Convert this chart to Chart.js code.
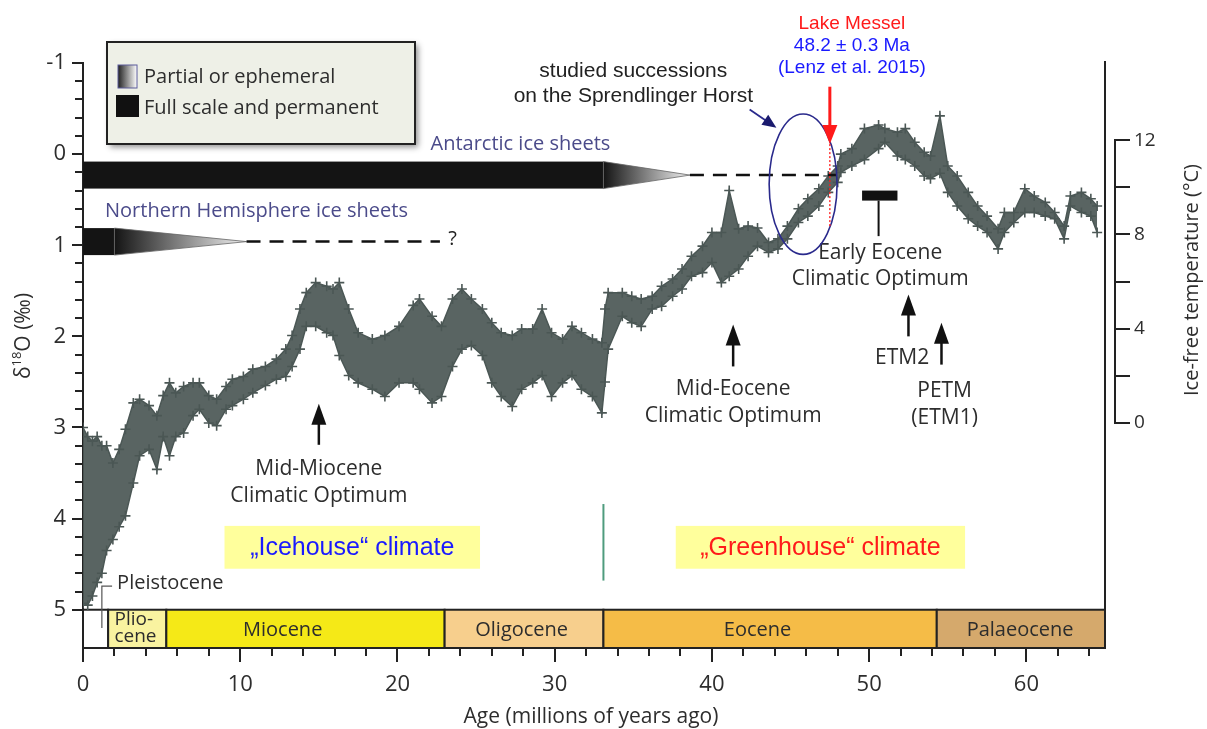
<!DOCTYPE html>
<html>
<head>
<meta charset="utf-8">
<script src="https://cdn.jsdelivr.net/npm/chart.js@4/dist/chart.umd.min.js"></script>
<style>
  html, body { margin: 0; padding: 0; background: #fff; }
</style>
</head>
<body>
<canvas id="chart" width="1207" height="729"></canvas>
<script>
// ---- data ----
// age in Ma, upper and lower edge of the δ18O scatter cloud (‰)
const ages = [
  0.0, 0.3, 0.6, 0.9, 1.2, 1.5, 1.9, 2.3, 2.7, 3.2,
  3.6, 4.2, 4.7, 5.1, 5.5, 5.9, 6.4, 7.0, 7.4, 8.0,
  8.5, 9.1, 9.5, 10.2, 10.8, 11.6, 12.3, 12.9, 13.3, 13.8,
  14.2, 14.8, 15.5, 15.9, 16.3, 16.9, 17.5, 18.4, 19.2, 20.1,
  21.0, 21.4, 22.2, 22.8, 23.5, 24.1, 24.7, 25.4, 26.0, 26.6,
  27.3, 27.9, 28.6, 29.2, 29.8, 30.5, 31.1, 31.7, 32.4, 33.0,
  33.2, 33.4, 34.3, 34.9, 35.5, 36.2, 36.8, 37.5, 38.1, 38.7,
  39.4, 40.0, 40.6, 41.1, 41.7, 42.3, 42.9, 43.6, 44.2, 44.8,
  45.5, 46.1, 46.8, 47.4, 48.0, 48.2, 48.9, 49.7, 50.6, 51.0,
  51.8, 52.3, 52.9, 53.5, 53.9, 54.5, 55.0, 55.6, 56.3, 56.9,
  57.5, 58.2, 58.6, 59.2, 59.9, 60.5, 61.2, 61.8, 62.4, 62.8,
  63.5, 64.1, 64.5
];
const d18oTop = [
  3.0, 3.1, 3.15, 3.1, 3.2, 3.2, 3.39, 3.24, 3.02, 2.73,
  2.69, 2.76, 2.87, 2.65, 2.51, 2.62, 2.55, 2.51, 2.51, 2.65,
  2.69, 2.55, 2.47, 2.44, 2.36, 2.33, 2.25, 2.14, 1.99, 1.70,
  1.52, 1.41, 1.45, 1.48, 1.41, 1.70, 1.96, 2.03, 1.99, 1.89,
  1.66, 1.59, 1.78, 1.89, 1.59, 1.48, 1.59, 1.70, 1.85, 1.96,
  1.99, 1.92, 1.92, 1.70, 1.96, 2.03, 1.89, 1.96, 2.03, 2.07,
  1.70, 1.52, 1.52, 1.56, 1.59, 1.56, 1.45, 1.37, 1.26, 1.12,
  1.01, 0.86, 0.86, 0.40, 0.82, 0.79, 0.81, 0.97, 0.93, 0.79,
  0.60, 0.49, 0.38, 0.24, 0.13, 0.00, -0.06, -0.28, -0.32, -0.28,
  -0.24, -0.28, -0.13, -0.02, 0.02, -0.42, 0.13, 0.24, 0.42, 0.57,
  0.68, 0.82, 0.64, 0.64, 0.38, 0.46, 0.53, 0.64, 0.79, 0.46,
  0.42, 0.49, 0.57
];
const d18oBottom = [
  4.93, 4.95, 4.85, 4.70, 4.60, 4.35, 4.23, 4.09, 3.97, 3.61,
  3.31, 3.24, 3.46, 3.10, 3.31, 3.10, 3.06, 2.87, 2.80, 2.95,
  2.98, 2.80, 2.76, 2.69, 2.62, 2.54, 2.47, 2.44, 2.33, 2.14,
  1.89, 1.89, 1.96, 1.99, 2.21, 2.43, 2.51, 2.58, 2.66, 2.51,
  2.51, 2.58, 2.73, 2.66, 2.33, 2.14, 2.10, 2.21, 2.51, 2.66,
  2.77, 2.58, 2.51, 2.43, 2.66, 2.51, 2.43, 2.58, 2.66, 2.84,
  2.50, 2.14, 1.78, 1.85, 1.89, 1.70, 1.67, 1.56, 1.48, 1.34,
  1.30, 1.19, 1.41, 1.34, 1.26, 1.12, 1.01, 1.08, 1.04, 0.93,
  0.75, 0.68, 0.57, 0.42, 0.31, 0.20, 0.13, 0.06, -0.06, -0.13,
  0.02, 0.06, 0.13, 0.24, 0.27, 0.21, 0.42, 0.57, 0.71, 0.79,
  0.86, 1.04, 0.86, 0.75, 0.64, 0.64, 0.68, 0.71, 0.93, 0.57,
  0.64, 0.68, 0.86
];

// epochs (Ma)
const epochNames = ['', 'Plio-|cene', 'Miocene', 'Oligocene', 'Eocene', 'Palaeocene'];
const epochStart = [0, 1.6, 5.3, 23.0, 33.1, 54.3];
const epochEnd = [1.6, 5.3, 23.0, 33.1, 54.3, 65];
const epochLabelAge = [null, 2.0, 12.7, 27.9, 42.9, 59.6];
const epochColors = ['#ffffff', '#f9f3a0', '#f5e917', '#f7cf8d', '#f5bc47', '#d5a96c'];

// ice sheets: full until, partial until, uncertain until (Ma), δ18O level
const iceSheetNames = ['Antarctic ice sheets', 'Northern Hemisphere ice sheets'];
const iceFullTo = [33.1, 2.0];
const icePartialTo = [38.6, 10.4];
const iceDashedTo = [47.9, 22.7];
const iceLevel = [0.23, 0.96];

// climate states
const climateNames = ['„Icehouse“ climate', '„Greenhouse“ climate'];
const climateFrom = [9.0, 37.7];
const climateTo = [25.25, 56.1];
const climateColors = ['#1a1aff', '#ff1a1a'];
const climateBoundary = 33.1;

// ticks
const xTickLabels = [0, 10, 20, 30, 40, 50, 60];
const yTickLabels = [-1, 0, 1, 2, 3, 4, 5];
const tempTicks = [0, 2, 4, 6, 8, 10, 12];
const tempTickLabels = [0, 4, 8, 12];

// Lake Messel age as drawn (Ma)
const messelAge = 47.5;

const CLOUD = '#4b5755';
const INK = '#2d2d2d';
const SANS = '"Open Sans", "Noto Sans", sans-serif';
const ARIAL = '"Liberation Sans", Arial, sans-serif';

function label(ctx, str, x, y, size, color, align, family) {
  ctx.font = size + 'px ' + (family || SANS);
  ctx.fillStyle = color;
  ctx.textAlign = align || 'center';
  ctx.textBaseline = 'middle';
  ctx.fillText(str, x, y);
}

function upArrow(ctx, x, yTip, yBase) {
  ctx.strokeStyle = '#111';
  ctx.fillStyle = '#111';
  ctx.lineWidth = 2.5;
  ctx.beginPath();
  ctx.moveTo(x, yBase);
  ctx.lineTo(x, yTip + 15);
  ctx.stroke();
  ctx.beginPath();
  ctx.moveTo(x, yTip);
  ctx.lineTo(x - 7.5, yTip + 21);
  ctx.lineTo(x + 7.5, yTip + 21);
  ctx.closePath();
  ctx.fill();
}

// rotated title with an optional superscript part
function rotatedTitle(ctx, parts, cx, cy, size) {
  ctx.save();
  ctx.translate(cx, cy);
  ctx.rotate(-Math.PI / 2);
  ctx.fillStyle = INK;
  ctx.textBaseline = 'middle';
  ctx.textAlign = 'left';
  let total = 0;
  parts.forEach(p => {
    ctx.font = (p.sup ? Math.round(size * 0.62) : size) + 'px ' + SANS;
    p.w = ctx.measureText(p.t).width;
    total += p.w;
  });
  let px = -total / 2;
  parts.forEach(p => {
    ctx.font = (p.sup ? Math.round(size * 0.62) : size) + 'px ' + SANS;
    ctx.fillText(p.t, px, p.sup ? -size * 0.3 : 0);
    px += p.w;
  });
  ctx.restore();
}

const decor = {
  id: 'decor',
  beforeDatasetsDraw(chart) {
    const { ctx, chartArea: a, scales: { x, y } } = chart;
    ctx.save();
    // climate boxes
    climateNames.forEach((name, i) => {
      const x0 = x.getPixelForValue(climateFrom[i]);
      const x1 = x.getPixelForValue(climateTo[i]);
      const y0 = y.getPixelForValue(4.08);
      const y1 = y.getPixelForValue(4.55);
      ctx.fillStyle = '#ffff9c';
      ctx.fillRect(x0, y0, x1 - x0, y1 - y0);
      label(ctx, name, (x0 + x1) / 2, (y0 + y1) / 2 + 1, 25, climateColors[i], 'center', ARIAL);
    });
    // icehouse / greenhouse boundary
    const gx = x.getPixelForValue(climateBoundary);
    ctx.strokeStyle = '#4f9c7e';
    ctx.lineWidth = 2;
    ctx.beginPath();
    ctx.moveTo(gx, y.getPixelForValue(3.84));
    ctx.lineTo(gx, y.getPixelForValue(4.68));
    ctx.stroke();

    // epoch bar
    const yb0 = y.getPixelForValue(5);
    const yb1 = a.bottom;
    epochNames.forEach((name, i) => {
      const x0 = x.getPixelForValue(epochStart[i]);
      const x1 = x.getPixelForValue(epochEnd[i]);
      ctx.fillStyle = epochColors[i];
      ctx.fillRect(x0, yb0, x1 - x0, yb1 - yb0);
      ctx.strokeStyle = '#222';
      ctx.lineWidth = 2;
      ctx.strokeRect(x0, yb0, x1 - x0, yb1 - yb0);
      if (!name) return;
      const lx = x.getPixelForValue(epochLabelAge[i]);
      const ym = (yb0 + yb1) / 2;
      if (name.includes('|')) {
        const [l1, l2] = name.split('|');
        label(ctx, l1, lx, ym - 9, 19, INK, 'left');
        label(ctx, l2, lx, ym + 8, 19, INK, 'left');
      } else {
        label(ctx, name, lx, ym + 1, 20, INK, 'center');
      }
    });
    // Pleistocene leader
    const lx = x.getPixelForValue(1.2);
    ctx.strokeStyle = '#555';
    ctx.lineWidth = 1.2;
    ctx.beginPath();
    ctx.moveTo(lx, y.getPixelForValue(5.2));
    ctx.lineTo(lx, y.getPixelForValue(4.74));
    ctx.lineTo(x.getPixelForValue(1.85), y.getPixelForValue(4.74));
    ctx.stroke();
    label(ctx, 'Pleistocene', x.getPixelForValue(2.17), y.getPixelForValue(4.71), 20, INK, 'left');
    ctx.restore();
  },
  afterDatasetsDraw(chart) {
    const { ctx, scales: { x, y } } = chart;
    ctx.save();
    // ice sheet bars
    iceSheetNames.forEach((name, i) => {
      const yc = y.getPixelForValue(iceLevel[i]);
      const half = 13.5;
      const x0 = x.getPixelForValue(0);
      const x1 = x.getPixelForValue(iceFullTo[i]);
      const x2 = x.getPixelForValue(icePartialTo[i]);
      const x3 = x.getPixelForValue(iceDashedTo[i]);
      ctx.fillStyle = '#141414';
      ctx.fillRect(x0, yc - half, x1 - x0, 2 * half);
      const g = ctx.createLinearGradient(x1, 0, x2, 0);
      g.addColorStop(0, '#141414');
      g.addColorStop(1, '#f2f2f2');
      ctx.fillStyle = g;
      ctx.beginPath();
      ctx.moveTo(x1, yc - half);
      ctx.lineTo(x2, yc);
      ctx.lineTo(x1, yc + half);
      ctx.closePath();
      ctx.fill();
      ctx.strokeStyle = '#666';
      ctx.lineWidth = 0.8;
      ctx.stroke();
      ctx.setLineDash([14, 9]);
      ctx.strokeStyle = '#111';
      ctx.lineWidth = 2.5;
      ctx.beginPath();
      ctx.moveTo(x2, yc);
      ctx.lineTo(x3, yc);
      ctx.stroke();
      ctx.setLineDash([]);
    });
    label(ctx, iceSheetNames[0], x.getPixelForValue(22.1), y.getPixelForValue(-0.11), 20, '#4b4b8a', 'left');
    label(ctx, iceSheetNames[1], x.getPixelForValue(1.4), y.getPixelForValue(0.63), 20, '#4b4b8a', 'left');
    label(ctx, '?', x.getPixelForValue(23.5), y.getPixelForValue(0.93), 20, '#222', 'center');
    ctx.restore();
  },
  afterDraw(chart) {
    const { ctx, chartArea: a, scales: { x, y, yT } } = chart;
    ctx.save();

    // left axis ticks (major every 1, minor every 0.2)
    ctx.strokeStyle = '#222';
    ctx.lineWidth = 2;
    for (let k = -5; k <= 25; k++) {
      const v = k / 5;
      const py = Math.round(y.getPixelForValue(v));
      const len = k % 5 === 0 ? 11 : 8;
      ctx.beginPath();
      ctx.moveTo(a.left - len, py);
      ctx.lineTo(a.left, py);
      ctx.stroke();
    }
    // bottom axis ticks (major every 10, minor every 2)
    for (let v = 0; v <= 64; v += 2) {
      const px = Math.round(x.getPixelForValue(v));
      const len = v % 10 === 0 ? 14 : 8;
      ctx.beginPath();
      ctx.moveTo(px, a.bottom);
      ctx.lineTo(px, a.bottom + len);
      ctx.stroke();
    }
    // right frame line
    ctx.beginPath();
    ctx.moveTo(a.right, a.top - 2);
    ctx.lineTo(a.right, a.bottom);
    ctx.stroke();

    // temperature axis
    const tx = a.right + 10;
    ctx.beginPath();
    ctx.moveTo(tx, yT.getPixelForValue(12));
    ctx.lineTo(tx, yT.getPixelForValue(0));
    ctx.stroke();
    tempTicks.forEach(v => {
      const py = Math.round(yT.getPixelForValue(v));
      ctx.beginPath();
      ctx.moveTo(tx - 1, py);
      ctx.lineTo(tx + 15, py);
      ctx.stroke();
    });

    // axis titles
    rotatedTitle(ctx, [{ t: 'δ' }, { t: '18', sup: true }, { t: 'O (‰)' }], 24, 336, 21);
    rotatedTitle(ctx, [{ t: 'Ice-free temperature (°C)' }], 1192, 280, 20);
    label(ctx, 'Age (millions of years ago)', (a.left + a.right) / 2 - 3, 717, 21, INK, 'center');

    // climatic events
    const events = [
      { age: 15.0, tip: 2.74, base: 3.19, lines: ['Mid-Miocene', 'Climatic Optimum'], textAge: 15.0, textAt: 3.46 },
      { age: 41.35, tip: 1.87, base: 2.33, lines: ['Mid-Eocene', 'Climatic Optimum'], textAge: 41.35, textAt: 2.58 },
      { age: 52.5, tip: 1.54, base: 2.0, lines: ['ETM2'], textAge: 52.1, textAt: 2.24 },
      { age: 54.6, tip: 1.85, base: 2.31, lines: ['PETM', '(ETM1)'], textAge: 54.8, textAt: 2.6 }
    ];
    events.forEach(e => {
      upArrow(ctx, x.getPixelForValue(e.age), y.getPixelForValue(e.tip), y.getPixelForValue(e.base));
      e.lines.forEach((t, j) => {
        label(ctx, t, x.getPixelForValue(e.textAge), y.getPixelForValue(e.textAt) + j * 27, 21, INK, 'center');
      });
    });
    // Early Eocene Climatic Optimum bar
    const ex0 = x.getPixelForValue(49.55), ex1 = x.getPixelForValue(51.8);
    ctx.fillStyle = '#111';
    ctx.fillRect(ex0, y.getPixelForValue(0.40), ex1 - ex0, y.getPixelForValue(0.51) - y.getPixelForValue(0.40));
    ctx.strokeStyle = '#111';
    ctx.lineWidth = 2;
    ctx.beginPath();
    ctx.moveTo(x.getPixelForValue(50.6), y.getPixelForValue(0.51));
    ctx.lineTo(x.getPixelForValue(50.6), y.getPixelForValue(0.90));
    ctx.stroke();
    label(ctx, 'Early Eocene', x.getPixelForValue(50.7), y.getPixelForValue(1.08), 21, INK, 'center');
    label(ctx, 'Climatic Optimum', x.getPixelForValue(50.7), y.getPixelForValue(1.37), 21, INK, 'center');

    // studied successions ellipse + arrow
    const ecx = x.getPixelForValue(45.8), ecy = y.getPixelForValue(0.33);
    const erx = x.getPixelForValue(45.8 + 2.16) - ecx;
    const ery = y.getPixelForValue(0.33 + 0.77) - ecy;
    ctx.strokeStyle = '#2a2a8c';
    ctx.lineWidth = 1.6;
    ctx.beginPath();
    ctx.ellipse(ecx, ecy, erx, ery, 0, 0, Math.PI * 2);
    ctx.stroke();
    const ax0 = x.getPixelForValue(42.4), ay0 = y.getPixelForValue(-0.49);
    const ax1 = x.getPixelForValue(44.1), ay1 = y.getPixelForValue(-0.29);
    const ang = Math.atan2(ay1 - ay0, ax1 - ax0);
    ctx.lineWidth = 1.8;
    ctx.beginPath();
    ctx.moveTo(ax0, ay0);
    ctx.lineTo(ax1 - 8 * Math.cos(ang), ay1 - 8 * Math.sin(ang));
    ctx.stroke();
    ctx.fillStyle = '#1a1a6e';
    ctx.beginPath();
    ctx.moveTo(ax1, ay1);
    ctx.lineTo(ax1 - 14 * Math.cos(ang) + 6 * Math.sin(ang), ay1 - 14 * Math.sin(ang) - 6 * Math.cos(ang));
    ctx.lineTo(ax1 - 14 * Math.cos(ang) - 6 * Math.sin(ang), ay1 - 14 * Math.sin(ang) + 6 * Math.cos(ang));
    ctx.closePath();
    ctx.fill();
    label(ctx, 'studied successions', x.getPixelForValue(35.0), y.getPixelForValue(-0.91), 21, '#222', 'center', ARIAL);
    label(ctx, 'on the Sprendlinger Horst', x.getPixelForValue(35.0), y.getPixelForValue(-0.64), 21, '#222', 'center', ARIAL);

    // Lake Messel
    const mx = x.getPixelForValue(messelAge);
    const mTip = y.getPixelForValue(-0.11);
    ctx.strokeStyle = '#ff1a1a';
    ctx.fillStyle = '#ff1a1a';
    ctx.lineWidth = 3;
    ctx.beginPath();
    ctx.moveTo(mx, y.getPixelForValue(-0.74));
    ctx.lineTo(mx, mTip - 14);
    ctx.stroke();
    ctx.beginPath();
    ctx.moveTo(mx, mTip);
    ctx.lineTo(mx - 7.5, mTip - 19);
    ctx.lineTo(mx + 7.5, mTip - 19);
    ctx.closePath();
    ctx.fill();
    ctx.lineWidth = 1.3;
    ctx.setLineDash([2, 2]);
    ctx.beginPath();
    ctx.moveTo(mx, mTip);
    ctx.lineTo(mx, y.getPixelForValue(0.80));
    ctx.stroke();
    ctx.setLineDash([]);
    label(ctx, 'Lake Messel', x.getPixelForValue(48.9), y.getPixelForValue(-1.43), 19, '#ff1a1a', 'center', ARIAL);
    label(ctx, '48.2 ± 0.3 Ma', x.getPixelForValue(48.9), y.getPixelForValue(-1.19), 19, '#1a1aff', 'center', ARIAL);
    label(ctx, '(Lenz et al. 2015)', x.getPixelForValue(48.9), y.getPixelForValue(-0.95), 19, '#1a1aff', 'center', ARIAL);

    // legend box
    ctx.save();
    ctx.shadowColor = 'rgba(0,0,0,0.45)';
    ctx.shadowBlur = 6;
    ctx.shadowOffsetX = 3;
    ctx.shadowOffsetY = 3;
    ctx.fillStyle = '#eef0e7';
    ctx.fillRect(107, 42, 308, 102);
    ctx.restore();
    ctx.strokeStyle = '#222';
    ctx.lineWidth = 2;
    ctx.strokeRect(107, 42, 308, 102);
    const lg = ctx.createLinearGradient(118, 0, 137, 0);
    lg.addColorStop(0, '#222');
    lg.addColorStop(1, '#ffffff');
    ctx.fillStyle = lg;
    ctx.fillRect(118, 65, 19, 23);
    ctx.strokeStyle = '#5a5a9a';
    ctx.lineWidth = 1;
    ctx.strokeRect(118, 65, 19, 23);
    ctx.fillStyle = '#111';
    ctx.fillRect(116, 95, 23, 22);
    label(ctx, 'Partial or ephemeral', 144, 77, 20, INK, 'left');
    label(ctx, 'Full scale and permanent', 144, 108, 20, INK, 'left');

    ctx.restore();
  }
};

const cloudPoints = (vals) => ages.map((a, i) => ({ x: a, y: vals[i] }));

new Chart(document.getElementById('chart'), {
  type: 'scatter',
  data: {
    datasets: [
      {
        label: 'δ18O upper',
        data: cloudPoints(d18oTop),
        showLine: true,
        fill: '+1',
        tension: 0,
        borderColor: CLOUD,
        borderWidth: 1.5,
        backgroundColor: 'rgba(75,87,85,0.92)',
        pointStyle: 'cross',
        pointRadius: 5,
        pointBorderWidth: 1.6,
        pointBorderColor: CLOUD
      },
      {
        label: 'δ18O lower',
        data: cloudPoints(d18oBottom),
        showLine: true,
        fill: false,
        tension: 0,
        borderColor: CLOUD,
        borderWidth: 1.5,
        pointStyle: 'cross',
        pointRadius: 5,
        pointBorderWidth: 1.6,
        pointBorderColor: CLOUD
      }
    ]
  },
  options: {
    responsive: false,
    animation: false,
    devicePixelRatio: 1,
    layout: { padding: { top: 63, left: 0, right: 0, bottom: 0 } },
    plugins: { legend: { display: false }, tooltip: { enabled: false } },
    scales: {
      x: {
        type: 'linear',
        position: 'bottom',
        min: 0,
        max: 65,
        afterBuildTicks: s => { s.ticks = xTickLabels.map(v => ({ value: v })); },
        ticks: { autoSkip: false, maxRotation: 0, padding: 24, color: INK, font: { family: SANS, size: 22 } },
        grid: { display: false, drawTicks: false },
        border: { display: true, color: '#222', width: 2 },
        afterFit: s => { s.height = 81; }
      },
      y: {
        type: 'linear',
        position: 'left',
        reverse: true,
        min: -1,
        max: 5.42,
        afterBuildTicks: s => { s.ticks = yTickLabels.map(v => ({ value: v })); },
        ticks: { autoSkip: false, padding: 17, color: INK, font: { family: SANS, size: 22 } },
        grid: { display: false, drawTicks: false },
        border: { display: true, color: '#222', width: 2 },
        afterFit: s => { s.width = 83; }
      },
      yT: {
        type: 'linear',
        position: 'right',
        min: -9.54,
        max: 15.27,
        afterBuildTicks: s => { s.ticks = tempTickLabels.map(v => ({ value: v })); },
        ticks: { autoSkip: false, padding: 29, color: INK, font: { family: SANS, size: 19 } },
        grid: { display: false, drawTicks: false },
        border: { display: false },
        afterFit: s => { s.width = 102; }
      }
    }
  },
  plugins: [decor]
});
</script>
</body>
</html>
